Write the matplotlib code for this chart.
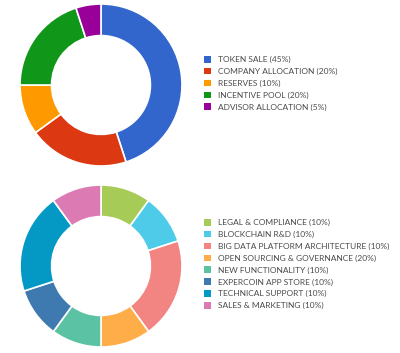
import matplotlib
matplotlib.use("Agg")
import matplotlib.pyplot as plt

# --- token distribution ---
token_labels = ["TOKEN SALE (45%)", "COMPANY ALLOCATION (20%)", "RESERVES (10%)",
                "INCENTIVE POOL (20%)", "ADVISOR ALLOCATION (5%)"]
token_values = [45, 20, 10, 20, 5]
token_colors = ["#3366cc", "#dc3912", "#ff9900", "#109618", "#990099"]

# --- use of funds ---
funds_labels = ["LEGAL & COMPLIANCE (10%)", "BLOCKCHAIN R&D (10%)",
                "BIG DATA PLATFORM ARCHITECTURE (10%)", "OPEN SOURCING & GOVERNANCE (20%)",
                "NEW FUNCTIONALITY (10%)", "EXPERCOIN APP STORE (10%)",
                "TECHNICAL SUPPORT (10%)", "SALES & MARKETING (10%)"]
# slice sizes as drawn in the chart
funds_values = [10, 10, 20, 10, 10, 10, 20, 10]
funds_colors = ["#a6cb56", "#4dcbe9", "#f28482", "#ffad48", "#5bc3a3",
                "#3e7ab0", "#0499c5", "#dc7bb3"]

W, H = 400, 353
fig = plt.figure(figsize=(W / 100, H / 100), dpi=100)
plt.rcParams['font.family'] = ['Lato', 'DejaVu Sans']


def donut(cx, cy, r, values, colors, labels, leg_x, leg_y):
    ax = fig.add_axes([(cx - r) / W, 1 - (cy + r) / H, 2 * r / W, 2 * r / H])
    wedges, _ = ax.pie(values, colors=colors, startangle=90, counterclock=False,
                       radius=1, wedgeprops=dict(width=0.39, edgecolor="white", linewidth=1.2))
    ax.set_xlim(-1, 1)
    ax.set_ylim(-1, 1)
    ax.set_aspect("equal")
    ax.axis("off")
    leg = fig.legend(wedges, labels, loc="upper left",
                     bbox_to_anchor=(leg_x / W, 1 - leg_y / H),
                     frameon=False, fontsize=6, handlelength=0.85, handleheight=0.85,
                     handletextpad=0.8, labelspacing=0.54, borderpad=0, borderaxespad=0)
    for t in leg.get_texts():
        t.set_color("#4a4a4a")
    for p in leg.get_patches():
        p.set_edgecolor("none")


donut(101, 85, 81, token_values, token_colors, token_labels, 204, 56)
donut(101, 266, 81, funds_values, funds_colors, funds_labels, 204, 219)

fig.savefig("out.png", dpi=100)
